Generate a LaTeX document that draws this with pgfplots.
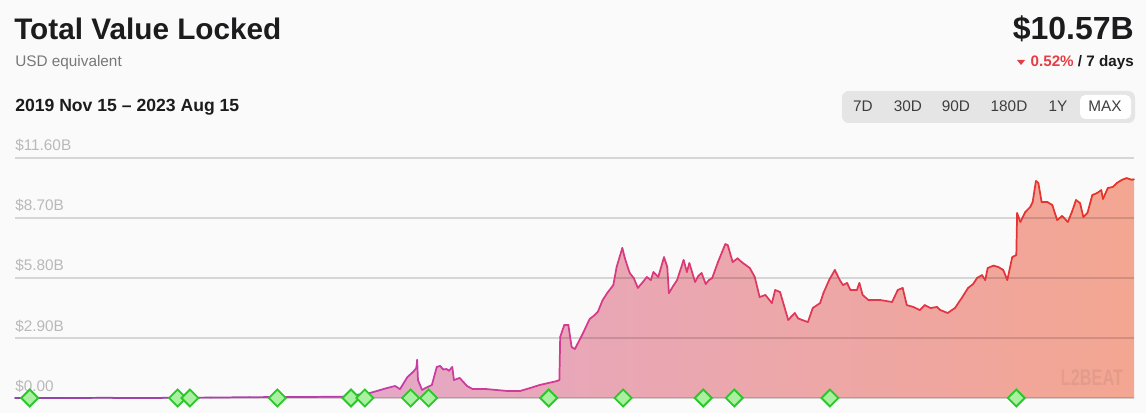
\documentclass[border=0pt]{standalone}
\usepackage{pgfplots}
\pgfplotsset{compat=1.18}
\usepackage{pgfplotstable}
\usepackage{fontspec}
\setmainfont{Liberation Sans}

\definecolor{bg}{RGB}{250,250,250}
\definecolor{ink}{RGB}{28,28,30}
\definecolor{subgray}{RGB}{120,120,120}
\definecolor{ticklab}{RGB}{185,185,185}
\definecolor{downred}{RGB}{229,62,70}
\definecolor{btnbg}{RGB}{229,229,229}
\definecolor{fillL}{RGB}{222,168,222}
\definecolor{fillM}{RGB}{233,170,205}
\definecolor{fillR}{RGB}{243,166,145}
\definecolor{mkline}{RGB}{40,200,40}
\definecolor{mkfill}{RGB}{170,240,160}
\pagecolor{bg}

% days since 2019 Nov 15, TVL in $B
\pgfplotstableread{
d v
0 0.00
60 0.00
120 0.01
180 0.01
240 0.02
287 0.04
349 0.05
401 0.06
434 0.24
455 0.48
465 0.58
471 0.43
480 1.01
487 1.26
491 1.45
492 1.84
493 0.87
498 0.39
502 0.48
510 0.63
516 1.50
520 1.55
524 1.38
528 1.40
531 1.32
535 1.50
537 0.87
544 0.97
553 0.58
560 0.43
577 0.43
602 0.34
618 0.34
630 0.48
642 0.63
663 0.82
666 0.87
667 2.95
672 3.53
677 3.53
681 2.46
685 2.37
695 3.14
703 3.82
708 3.97
713 4.16
719 4.74
725 5.10
732 5.46
736 6.33
743 7.25
746 6.77
752 6.04
757 5.80
762 5.32
768 5.60
773 5.85
778 5.70
781 6.09
787 5.85
794 6.81
798 6.33
800 5.07
805 5.40
810 5.70
818 6.67
822 6.09
825 6.52
832 5.61
836 5.90
840 6.04
845 5.51
849 5.70
853 5.80
860 6.57
869 7.44
872 7.39
878 6.57
884 6.75
889 6.57
899 6.28
905 5.85
911 4.88
918 4.98
926 4.59
930 5.22
936 5.12
946 3.77
950 3.95
954 4.11
958 3.85
963 3.77
970 3.67
976 4.35
985 4.59
989 5.07
996 5.70
1003 6.19
1009 5.70
1013 5.46
1018 5.56
1022 5.22
1030 5.22
1033 5.56
1037 4.98
1044 4.74
1058 4.74
1073 4.64
1080 5.22
1086 5.32
1091 4.49
1099 4.40
1107 4.25
1113 4.49
1120 4.35
1128 4.40
1132 4.25
1141 4.11
1150 4.35
1159 4.88
1166 5.32
1172 5.50
1177 5.80
1183 5.94
1187 5.70
1190 6.28
1197 6.40
1203 6.33
1209 6.19
1214 5.70
1220 6.81
1225 6.91
1226 8.94
1230 8.51
1236 8.99
1242 9.23
1245 9.47
1249 10.49
1252 10.39
1256 9.47
1263 9.47
1269 9.33
1275 8.60
1281 8.80
1288 8.51
1293 8.99
1298 9.57
1303 9.42
1307 8.75
1312 8.94
1318 9.81
1324 9.91
1329 10.05
1331 9.62
1337 10.15
1343 10.20
1348 10.39
1354 10.54
1360 10.63
1366 10.55
1369 10.57
}\tvl

\begin{document}
\begin{tikzpicture}
\def\px{0.75pt}

% header, left
\node[anchor=base west, inner sep=0pt, text=ink, font=\bfseries\fontsize{22.3}{24}\selectfont]
  at (14*\px,-40*\px) {Total Value Locked};
\node[anchor=base west, inner sep=0pt, text=subgray, font=\fontsize{11.5}{13}\selectfont]
  at (15*\px,-67*\px) {USD equivalent};
\node[anchor=base west, inner sep=0pt, text=ink, font=\bfseries\fontsize{13.2}{15}\selectfont]
  at (15*\px,-112*\px) {2019 Nov 15 -- 2023 Aug 15};

% header, right
\node[anchor=base east, inner sep=0pt, text=ink, font=\bfseries\fontsize{24}{26}\selectfont]
  at (1134*\px,-40*\px) {\$10.57B};
\fill[downred] (1017*\px,-60*\px) -- (1025*\px,-60*\px) -- (1021*\px,-65*\px) -- cycle;
\node[anchor=base east, inner sep=0pt, text=ink, font=\bfseries\fontsize{11.4}{13}\selectfont]
  at (1134*\px,-67*\px) {\textcolor{downred}{0.52\%} / 7 days};

% range buttons
\fill[btnbg, rounded corners=5pt] (842*\px,-91*\px) rectangle (1135*\px,-123*\px);
\fill[white, rounded corners=4pt] (1080*\px,-95*\px) rectangle (1131*\px,-119*\px);
\begin{scope}[every node/.style={anchor=base, inner sep=0pt, text=ink!85, font=\fontsize{11.5}{13}\selectfont}]
\node at (863*\px,-112*\px) {7D};
\node at (908*\px,-112*\px) {30D};
\node at (956*\px,-112*\px) {90D};
\node at (1009*\px,-112*\px) {180D};
\node at (1058*\px,-112*\px) {1Y};
\node at (1105*\px,-112*\px) {MAX};
\end{scope}

\begin{axis}[
  at={(11.25pt,-298.5pt)}, anchor=south west,
  scale only axis, width=839.25pt, height=180pt,
  set layers,
  xmin=0, xmax=1369, ymin=0, ymax=11.6,
  clip=false,
  axis line style={draw=none},
  xtick=\empty,
  ytick={0,2.9,5.8,8.7,11.6},
  yticklabels={\$0.00,\$2.90B,\$5.80B,\$8.70B,\$11.60B},
  ymajorgrids,
  grid style={black, opacity=0.14, line width=1.1pt},
  major tick length=0pt,
  yticklabel style={anchor=base west, inner sep=0pt, yshift=5.25pt,
    font=\fontsize{11.5}{13}\selectfont, text=ticklab},
  colormap={l2}{rgb255(0cm)=(142,68,173) rgb255(4.5cm)=(196,60,170)
    rgb255(7cm)=(214,58,140) rgb255(9.5cm)=(222,56,90) rgb255(13.69cm)=(232,50,35)},
]
\addplot[draw=none, left color=fillL, middle color=fillM, right color=fillR,
  on layer=axis background] table[x=d, y=v]{\tvl} \closedcycle;
\addplot[mesh, point meta=x, point meta min=0, point meta max=1369,
  line width=1.3pt, line cap=round, line join=round] table[x=d, y=v]{\tvl};
\addplot[only marks, mark=square*, mark size=4.5pt,
  mark options={rotate=45, draw=mkline, fill=mkfill, line width=1.4pt}]
  coordinates {(18,0) (199,0) (214,0) (321,0) (411,0) (428,0) (484,0) (506,0)
    (653,0) (744,0) (842,0) (880,0) (997,0) (1225,0)};
\end{axis}

\node[text=black, opacity=0.06, xscale=0.72, font=\bfseries\fontsize{17}{17}\selectfont]
  at (1092*\px,-378*\px) {L2BEAT};

\pgfresetboundingbox
\path (0,0) rectangle (859.5pt,-309.75pt);
\end{tikzpicture}
\end{document}
